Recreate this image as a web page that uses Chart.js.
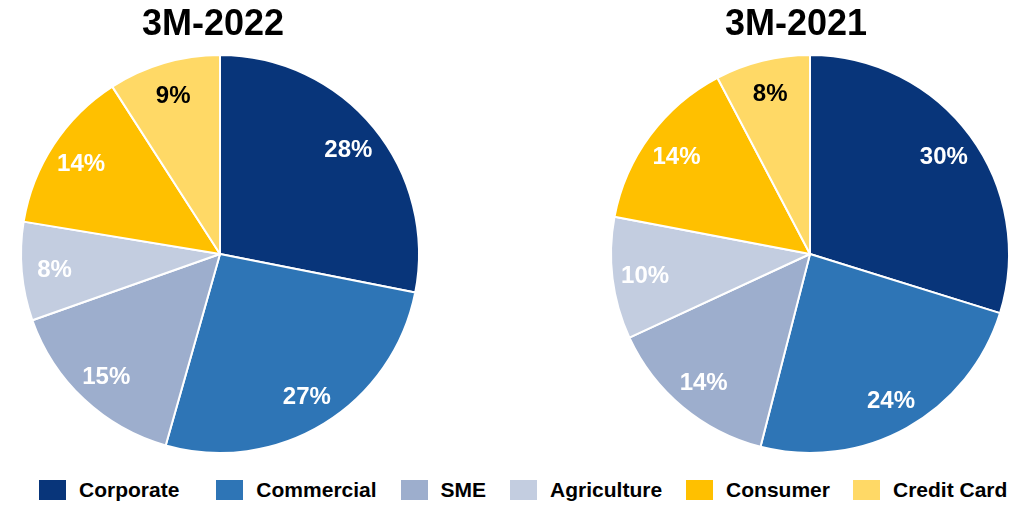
<!DOCTYPE html>
<html>
<head>
<meta charset="utf-8">
<script src="https://cdn.jsdelivr.net/npm/chart.js@4/dist/chart.umd.min.js"></script>
<style>
  html, body { margin: 0; padding: 0; background: #fff; }
  body { width: 1030px; height: 506px; position: relative; overflow: hidden; font-family: "Liberation Sans", Arial, sans-serif; }
  .wrap { position: absolute; top: 0; width: 440px; height: 470px; }
  .title { position: absolute; top: 5px; width: 300px; text-align: center; font-weight: bold; font-size: 36px; line-height: 36px; color: #000; }
  #legend { position: absolute; left: 39px; top: 478px; display: flex; align-items: center; }
  .item { display: flex; align-items: center; font-weight: bold; font-size: 21px; color: #000; }
  .sw { width: 27px; height: 20px; margin-right: 13px; }
</style>
</head>
<body>
<div class="wrap" style="left:0px"><canvas id="c1" width="440" height="470"></canvas></div>
<div class="wrap" style="left:590px"><canvas id="c2" width="440" height="470"></canvas></div>
<div class="title" id="t1" style="left:63px"></div>
<div class="title" id="t2" style="left:646px"></div>
<div id="legend"></div>
<script>
const categories = ["Corporate", "Commercial", "SME", "Agriculture", "Consumer", "Credit Card"];
const colors = ["#08357a", "#2e75b6", "#9daecd", "#c3cde0", "#ffc000", "#ffd966"];
const labelColors = ["#ffffff", "#ffffff", "#ffffff", "#ffffff", "#ffffff", "#000000"];
const titles = ["3M-2022", "3M-2021"];
const values2022 = [28.1, 26.3, 15.2, 8.0, 13.3, 9.1];
const labels2022 = ["28%", "27%", "15%", "8%", "14%", "9%"];
const values2021 = [29.8, 24.2, 14.1, 9.9, 14.3, 7.7];
const labels2021 = ["30%", "24%", "14%", "10%", "14%", "8%"];

const FONT = '"Liberation Sans", Arial, sans-serif';

const sliceLabels = {
  id: 'sliceLabels',
  afterDatasetsDraw(chart, args, opts) {
    const ctx = chart.ctx;
    const meta = chart.getDatasetMeta(0);
    ctx.save();
    ctx.font = 'bold 24px ' + FONT;
    ctx.textAlign = 'center';
    ctx.textBaseline = 'middle';
    meta.data.forEach((arc, i) => {
      const p = arc.getProps(['x', 'y', 'startAngle', 'endAngle', 'outerRadius'], true);
      const mid = (p.startAngle + p.endAngle) / 2;
      const r = p.outerRadius * 0.835;
      ctx.fillStyle = labelColors[i];
      ctx.fillText(opts.texts[i], p.x + Math.cos(mid) * r, p.y + Math.sin(mid) * r + 2);
    });
    ctx.restore();
  }
};

function makePie(id, values, texts) {
  return new Chart(document.getElementById(id), {
    type: 'pie',
    data: {
      labels: categories,
      datasets: [{
        data: values,
        backgroundColor: colors,
        borderColor: '#ffffff',
        borderWidth: 2
      }]
    },
    options: {
      responsive: false,
      animation: false,
      layout: { padding: { left: 20, right: 20, top: 54, bottom: 16 } },
      plugins: {
        legend: { display: false },
        tooltip: { enabled: false },
        title: { display: false },
        sliceLabels: { texts: texts }
      }
    },
    plugins: [sliceLabels]
  });
}

makePie('c1', values2022, labels2022);
makePie('c2', values2021, labels2021);
document.getElementById('t1').textContent = titles[0];
document.getElementById('t2').textContent = titles[1];

const gaps = [37, 24, 24, 24, 23];
const legend = document.getElementById('legend');
categories.forEach((c, i) => {
  const it = document.createElement('div');
  it.className = 'item';
  if (i < gaps.length) it.style.marginRight = gaps[i] + 'px';
  const sw = document.createElement('span');
  sw.className = 'sw';
  sw.style.background = colors[i];
  const tx = document.createElement('span');
  tx.textContent = c;
  it.appendChild(sw);
  it.appendChild(tx);
  legend.appendChild(it);
});
</script>
</body>
</html>
